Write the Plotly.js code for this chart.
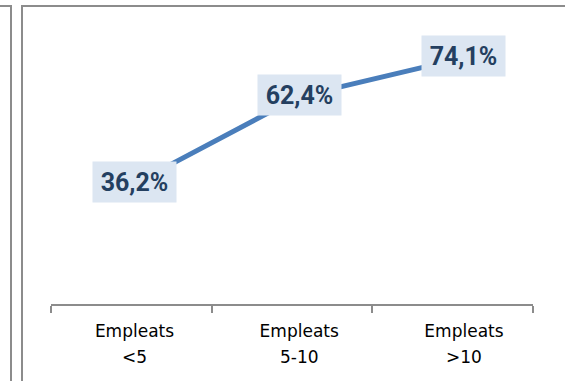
<!DOCTYPE html>
<html>
<head>
<meta charset="utf-8">
<script src="https://cdn.plot.ly/plotly-3.0.1.min.js"></script>
<style>
  html, body { margin: 0; padding: 0; background: #fff; overflow: hidden; }
  #wrap { position: relative; width: 565px; height: 381px; }
  .frame { position: absolute; border-left: 2px solid #8c8c8c; border-top: 2px solid #8c8c8c; border-right: 2px solid #8c8c8c; }
  #f1 { left: -100px; top: 5px; width: 108px; height: 500px; }
  #f2 { left: 21px; top: 5px; width: 600px; height: 500px; border-right: none; }
  #chart { position: absolute; left: 0; top: 0; width: 565px; height: 381px; }
</style>
</head>
<body>
<div id="wrap">
  <div class="frame" id="f1"></div>
  <div class="frame" id="f2"></div>
  <div id="chart"></div>
</div>
<script>
const categories = ['Empleats<br>&lt;5', 'Empleats<br>5-10', 'Empleats<br>&gt;10'];
const values = [36.2, 62.4, 74.1];
const boundaryTicks = [-0.5, 0.5, 1.5, 2.5];

const labels = values.map(v => v.toFixed(1).replace('.', ',') + '%');
const tickText = categories.map(c => c.split('<br>').map(s => "<span style='font-size:17px'>" + s + '</span>').join('<br>'));

const traces = [
  { type: 'scatter', mode: 'lines', x: [], y: [], xaxis: 'x', yaxis: 'y', showlegend: false, hoverinfo: 'skip' },
  {
    type: 'scatter', mode: 'lines',
    x: categories, y: values,
    xaxis: 'x2', yaxis: 'y',
    line: { color: '#4a7ebb', width: 5 },
    showlegend: false, hoverinfo: 'skip'
  }
];

const annotations = values.map((v, i) => ({
  xref: 'x2', yref: 'y', x: i, y: v,
  text: '<b>' + labels[i] + '</b>',
  showarrow: false,
  font: { family: 'Roboto, Liberation Sans, sans-serif', size: 25, color: '#243f60' },
  bgcolor: '#dce6f2',
  width: 81, height: 38, borderpad: 1,
  xanchor: 'center', yanchor: 'middle',
  yshift: 2
}));

const layout = {
  width: 565, height: 381,
  margin: { l: 51, r: 32, t: 38, b: 77, pad: 0 },
  paper_bgcolor: 'rgba(0,0,0,0)',
  plot_bgcolor: 'rgba(0,0,0,0)',
  showlegend: false,
  xaxis: {
    type: 'linear', range: [-0.5, 2.5],
    tickmode: 'array', tickvals: boundaryTicks,
    showticklabels: false,
    ticks: 'outside', ticklen: 7, tickwidth: 2, tickcolor: '#8c8c8c',
    showline: true, linecolor: '#8c8c8c', linewidth: 2,
    showgrid: false, zeroline: false, fixedrange: true
  },
  xaxis2: {
    type: 'category', overlaying: 'x', anchor: 'y', side: 'bottom',
    range: [-0.5068, 2.419],
    tickmode: 'array', tickvals: categories, ticktext: tickText,
    showline: false, showgrid: false, zeroline: false,
    ticks: 'outside', ticklen: 8, tickcolor: 'rgba(0,0,0,0)',
    tickfont: { family: 'DejaVu Sans, sans-serif', size: 20, color: '#000' },
    fixedrange: true
  },
  yaxis: {
    range: [0, 80], visible: false, showgrid: false, zeroline: false, fixedrange: true
  },
  annotations: annotations
};

Plotly.newPlot('chart', traces, layout, { staticPlot: true, displayModeBar: false });
</script>
</body>
</html>
